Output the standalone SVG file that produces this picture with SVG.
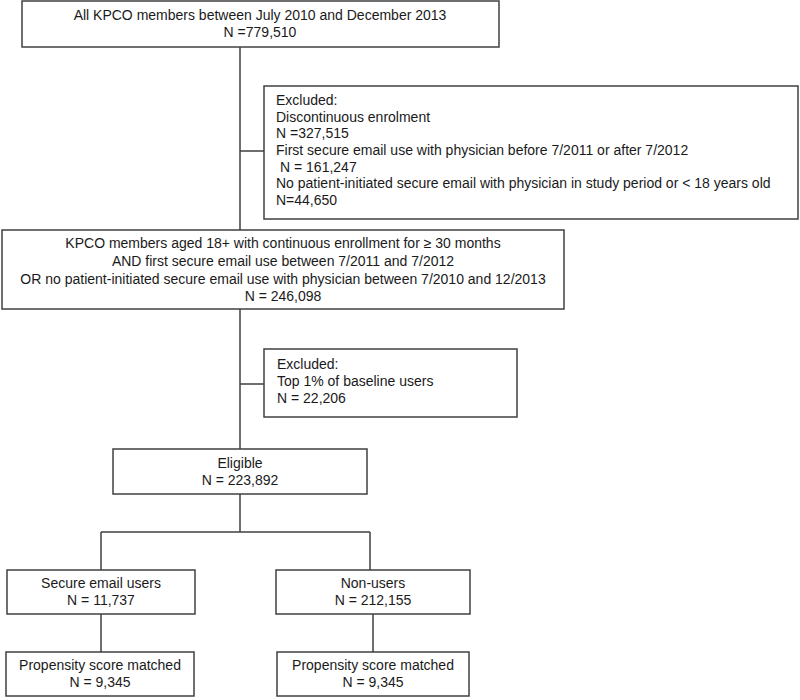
<svg xmlns="http://www.w3.org/2000/svg" width="800" height="700" viewBox="0 0 800 700">
<style>
.box{fill:#fff;stroke:#404040;stroke-width:1.5}
.ln{stroke:#404040;stroke-width:1.5;fill:none}
text{font-family:"Liberation Sans",Arial,sans-serif;font-size:14px;fill:#1a1a1a}
.c{text-anchor:middle}
</style>
<rect width="800" height="700" fill="#fff"/>
<g id="connectors">
<path class="ln" d="M240 47V230M240 151H264M240 309V449M240 384H264M240 494V532M101 532H370M101 532V570M370 532V570M101 614V652M373 614V652"/>
</g>
<g id="all-members">
<rect class="box" x="22" y="1" width="477" height="46"/>
<text class="c" x="260" y="20">All KPCO members between July 2010 and December 2013</text>
<text class="c" x="260" y="37">N =779,510</text>
</g>
<g id="excluded-1">
<rect class="box" x="264" y="86" width="534" height="133"/>
<text x="276" y="105">Excluded:</text>
<text x="276" y="121.5">Discontinuous enrolment</text>
<text x="276" y="138">N =327,515</text>
<text x="276" y="155">First secure email use with physician before 7/2011 or after 7/2012</text>
<text x="280" y="171.5">N = 161,247</text>
<text x="276" y="188">No patient-initiated secure email with physician in study period or &lt; 18 years old</text>
<text x="276" y="205">N=44,650</text>
</g>
<g id="cohort">
<rect class="box" x="2" y="230" width="562" height="79"/>
<text class="c" x="283" y="248">KPCO members aged 18+ with continuous enrollment for ≥ 30 months</text>
<text class="c" x="283" y="266">AND first secure email use between 7/2011 and 7/2012</text>
<text class="c" x="283" y="283.5">OR no patient-initiated secure email use with physician between 7/2010 and 12/2013</text>
<text class="c" x="283" y="301">N = 246,098</text>
</g>
<g id="excluded-2">
<rect class="box" x="264" y="349" width="253" height="68"/>
<text x="277" y="369">Excluded:</text>
<text x="277" y="386">Top 1% of baseline users</text>
<text x="277" y="403">N = 22,206</text>
</g>
<g id="eligible">
<rect class="box" x="113" y="449" width="254" height="45"/>
<text class="c" x="240" y="468">Eligible</text>
<text class="c" x="240" y="485">N = 223,892</text>
</g>
<g id="users">
<rect class="box" x="7" y="570" width="188" height="44"/>
<text class="c" x="101" y="588">Secure email users</text>
<text class="c" x="101" y="605">N = 11,737</text>
</g>
<g id="non-users">
<rect class="box" x="276" y="570" width="194" height="44"/>
<text class="c" x="373" y="588">Non-users</text>
<text class="c" x="373" y="605">N = 212,155</text>
</g>
<g id="users-matched">
<rect class="box" x="6" y="652" width="188" height="44"/>
<text class="c" x="100" y="670">Propensity score matched</text>
<text class="c" x="100" y="687">N = 9,345</text>
</g>
<g id="non-users-matched">
<rect class="box" x="277" y="652" width="192" height="44"/>
<text class="c" x="373" y="670">Propensity score matched</text>
<text class="c" x="373" y="687">N = 9,345</text>
</g>
</svg>
